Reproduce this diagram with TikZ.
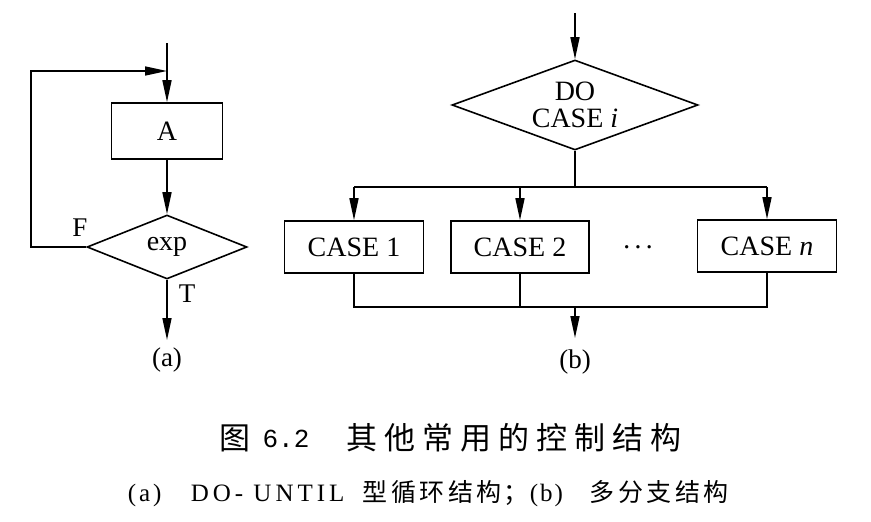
\documentclass[tikz,border=0pt]{standalone}
\usepackage{fontspec}
\setmainfont{Liberation Serif}
\newfontfamily\cjk{Noto Sans CJK SC}
\newfontfamily\monof{Liberation Mono}
\usetikzlibrary{shapes.geometric,arrows.meta}
\newcommand\cb[1]{\makebox[38pt]{#1}}
\newcommand\cc[1]{\makebox[28.5pt]{#1}}
\begin{document}
\begin{tikzpicture}[x=1pt,y=-1pt,line width=1.6pt,
  txt/.style={font=\fontsize{28}{28}\selectfont},
  procbox/.style={draw,rectangle,inner sep=0pt,minimum height=52pt,txt},
  decbox/.style={draw,diamond,inner sep=0pt,txt},
  arr/.style={-{Triangle[length=22pt,width=9pt]}},
  lbl/.style={font=\fontsize{27}{27}\selectfont,inner sep=0pt},
  captxt/.style={inner sep=0pt,font=\fontsize{25}{30}\selectfont}]
\useasboundingbox (0,0) rectangle (871,522);

% ---------- (a) DO-UNTIL ----------
\coordinate (inA) at (167,43);
\coordinate (jA) at (167,71);
\coordinate (cornA) at (31,247);
\coordinate (outA) at (167,340);
\node[procbox,minimum width=111pt,minimum height=56pt] (A) at (167,131) {A};
\node[decbox,minimum width=160pt,minimum height=64pt,aspect=2.5] (E) at (167,247) {exp};
\draw[arr] (inA) -- (A.north);
\draw[arr] (A.south) -- (E.north);
\draw[arr] (E.west) -- (cornA) |- (jA);
\draw[arr] (E.south) -- (outA);
\node[lbl] (F) at (80,228) {F};
\node[lbl] (T) at (187,294) {T};
\node[lbl] (la) at (167,360) {(a)};

% ---------- (b) multi-branch ----------
\coordinate (inB) at (575,13);
\coordinate (sp) at (575,187);
\coordinate (jn) at (575,307);
\coordinate (outB) at (575,338);
\node[decbox,minimum width=246pt,minimum height=90pt,aspect=2.73,align=center] (D) at (575,105) {DO\\[-1pt]CASE \textit{i}};
\node[procbox,minimum width=139pt] (C1) at (354,247) {CASE 1};
\node[procbox,minimum width=138pt] (C2) at (520,247) {CASE 2};
\node[procbox,minimum width=139pt] (Cn) at (767,246) {CASE \textit{n}};
\node[txt,inner sep=0pt] (dots) at (638,251) {·\hspace{2pt}·\hspace{2pt}·};
\draw[arr] (inB) -- (D.north);
\draw (D.south) -- (sp);
\draw (C1.north |- sp) -- (Cn.north |- sp);
\draw[arr] (C1.north |- sp) -- (C1.north);
\draw[arr] (C2.north |- sp) -- (C2.north);
\draw[arr] (Cn.north |- sp) -- (Cn.north);
\draw (C1.south) -- (C1.south |- jn) -- (Cn.south |- jn) -- (Cn.south);
\draw (C2.south) -- (C2.south |- jn);
\draw[arr] (jn) -- (outB);
\node[lbl] (lb) at (575,362) {(b)};

% ---------- captions ----------
\node[captxt,anchor=base] (cap1a) at (235,449) {\cjk\fontsize{31}{34}\selectfont 图};
\node[captxt,anchor=base] (cap1b) at (286,447) {\monof\fontsize{26}{30}\selectfont 6.2};
\node[captxt,anchor=base west] (cap1c) at (342,449) {\cjk\fontsize{31}{34}\selectfont\cb{其}\cb{他}\cb{常}\cb{用}\cb{的}\cb{控}\cb{制}\cb{结}\cb{构}};
\node[captxt,anchor=base west] (cap2a) at (127,501) {(\hspace{3pt}a\hspace{3pt})};
\node[captxt,anchor=base west] (cap2b) at (190,501) {\addfontfeature{LetterSpace=16}DO- UNTIL};
\node[captxt,anchor=base west] (cap2c) at (360,501) {\cjk\cc{型}\cc{循}\cc{环}\cc{结}\cc{构}；};
\node[captxt,anchor=base west] (cap2d) at (529,501) {(\hspace{2pt}b\hspace{2pt})};
\node[captxt,anchor=base west] (cap2e) at (587,501) {\cjk\cc{多}\cc{分}\cc{支}\cc{结}\cc{构}};
\end{tikzpicture}
\end{document}
